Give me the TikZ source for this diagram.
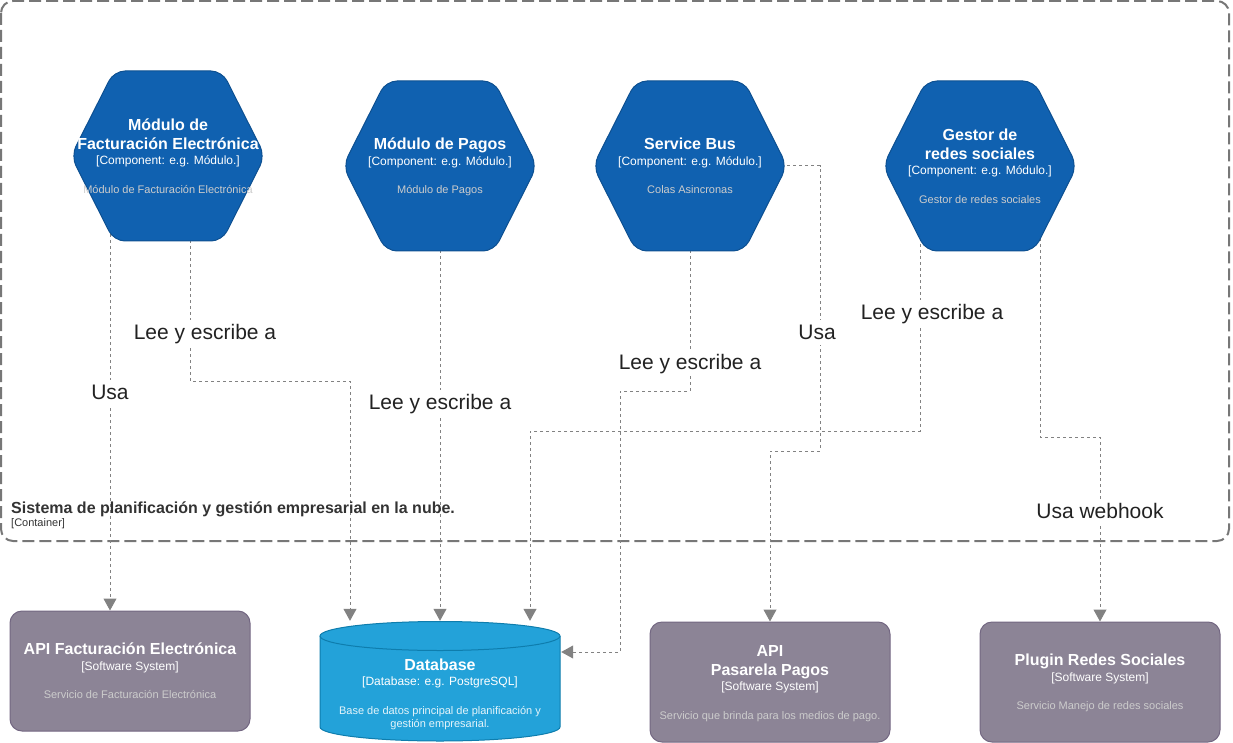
\documentclass[tikz,border=0pt]{standalone}
\usepackage{fontspec}
\setmainfont{Liberation Sans}
\usetikzlibrary{arrows.meta,calc}
\pgfdeclarelayer{bg}
\pgfsetlayers{bg,main}
\definecolor{hexfill}{HTML}{1061B0}
\definecolor{hexline}{HTML}{0D5091}
\definecolor{sysfill}{HTML}{8C8496}
\definecolor{sysline}{HTML}{736782}
\definecolor{dbfill}{HTML}{23A2D9}
\definecolor{dbline}{HTML}{0E7DAD}
\definecolor{edgec}{HTML}{828282}
\definecolor{descc}{HTML}{CCCCCC}
\definecolor{boundc}{HTML}{777777}
\definecolor{labc}{HTML}{222222}
\definecolor{bndtext}{HTML}{333333}
\newcommand\hexbody[2]{%
  \draw[hexbody] ({#1-97},{#2}) -- ({#1-54},{#2-85}) -- ({#1+54},{#2-85}) -- ({#1+97},{#2}) -- ({#1+54},{#2+85}) -- ({#1-54},{#2+85}) -- cycle;}
\tikzset{
  hexbody/.style={fill=hexfill, draw=hexline, line width=1pt, rounded corners=11pt},
  hexanchor/.style={rectangle, draw=none, fill=none, inner sep=0pt, minimum width=194pt, minimum height=170pt},
  sysbox/.style={rectangle, rounded corners=12pt, fill=sysfill, draw=sysline, line width=1pt, minimum width=240pt, minimum height=120pt, inner sep=0pt},
  dbanchor/.style={rectangle, draw=none, fill=none, inner sep=0pt, minimum width=240pt, minimum height=120pt},
  dbbody/.style={fill=dbfill, draw=dbline, line width=1pt},
  ttl/.style={font=\bfseries\fontsize{16}{19}\selectfont, text=white, inner sep=0pt, text height=11.6pt, text depth=0pt},
  typ/.style={font=\fontsize{12}{14}\selectfont, text=white, inner sep=0pt, text height=8.6pt, text depth=0pt},
  dsc/.style={font=\fontsize{11}{13}\selectfont, text=descc, inner sep=0pt, text height=7.9pt, text depth=0pt},
  lab/.style={font=\fontsize{21}{25}\selectfont, text=labc, fill=white, inner xsep=1pt, inner ysep=5pt, text height=15pt, text depth=0pt},
  edge/.style={draw=edgec, line width=1pt, dash pattern=on 3pt off 3pt, -{Triangle[length=12pt,width=13pt,fill=edgec]}},
  bound/.style={draw=boundc, line width=2pt, dash pattern=on 12pt off 5pt, rounded corners=12pt},
  bndttl/.style={font=\bfseries\fontsize{16}{19}\selectfont, text=bndtext, inner sep=0pt, anchor=west, text height=11.6pt, text depth=0pt},
  bndtyp/.style={font=\fontsize{11}{13}\selectfont, text=bndtext, inner sep=0pt, anchor=west, text height=7.9pt, text depth=0pt},
}
\begin{document}
\begin{tikzpicture}[x=1pt,y=-1pt]
\path[use as bounding box] (0,0) rectangle (1233,743);

% ---------- hexagon components ----------
\hexbody{168}{156}
\node[hexanchor] (h1) at (168,156) {};
\node[ttl] (h1a) at (168,125) {Módulo de};
\node[ttl] (h1b) at (168,144) {Facturación Electrónica};
\node[typ] (h1c) at (168,160) {[Component: e.g. Módulo.]};
\node[dsc] (h1d) at (168,190) {Módulo de Facturación Electrónica};

\hexbody{440}{166}
\node[hexanchor] (h2) at (440,166) {};
\node[ttl] (h2a) at (440,144) {Módulo de Pagos};
\node[typ] (h2c) at (440,161) {[Component: e.g. Módulo.]};
\node[dsc] (h2d) at (440,190) {Módulo de Pagos};

\hexbody{690}{166}
\node[hexanchor] (h3) at (690,166) {};
\node[ttl] (h3a) at (690,144) {Service Bus};
\node[typ] (h3c) at (690,161) {[Component: e.g. Módulo.]};
\node[dsc] (h3d) at (690,190) {Colas Asincronas};

\hexbody{980}{166}
\node[hexanchor] (h4) at (980,166) {};
\node[ttl] (h4a) at (980,135) {Gestor de};
\node[ttl] (h4b) at (980,154) {redes sociales};
\node[typ] (h4c) at (980,170) {[Component: e.g. Módulo.]};
\node[dsc] (h4d) at (980,200) {Gestor de redes sociales};

% ---------- container label ----------
\node[bndttl] (bt) at (11,508) {Sistema de planificación y gestión empresarial en la nube.};
\node[bndtyp] (bty) at (11,523) {[Container]};

% ---------- external systems ----------
\node[sysbox] (api1) at (130,671) {};
\node[ttl] (api1a) at (130,649) {API Facturación Electrónica};
\node[typ] (api1c) at (130,666) {[Software System]};
\node[dsc] (api1d) at (130,695) {Servicio de Facturación Electrónica};

\node[sysbox] (api2) at (770,682) {};
\node[ttl] (api2a) at (770,651) {API};
\node[ttl] (api2b) at (770,670) {Pasarela Pagos};
\node[typ] (api2c) at (770,686) {[Software System]};
\node[dsc] (api2d) at (770,716) {Servicio que brinda para los medios de pago.};

\node[sysbox] (plg) at (1100,682) {};
\node[ttl] (plga) at (1100,660) {Plugin Redes Sociales};
\node[typ] (plgc) at (1100,677) {[Software System]};
\node[dsc] (plgd) at (1100,706) {Servicio Manejo de redes sociales};

% ---------- database ----------
\draw[dbbody] (320,636) -- (320,727) .. controls (320,734.7) and (373.7,741) .. (440,741) .. controls (506.3,741) and (560,734.7) .. (560,727) -- (560,636);
\draw[dbbody] (440,636) ellipse [x radius=120pt, y radius=14.5pt];
\node[dbanchor] (db) at (440,681) {};
\node[ttl] (dba) at (440,665) {Database};
\node[typ] (dbc) at (440,681) {[Database: e.g. PostgreSQL]};
\node[dsc, text=white!88!dbfill] (dbd) at (440,711) {Base de datos principal de planificación y};
\node[dsc, text=white!88!dbfill] (dbe) at (440,724) {gestión empresarial.};

% ---------- connectors ----------
\coordinate (e1s) at ($(h1.center)+(-58,0)$);
\coordinate (e2s) at ($(h1.center)+(22,0)$);
\coordinate (e6s) at ($(h4.center)+(-60,0)$);
\coordinate (e7s) at ($(h4.center)+(60,0)$);
\begin{pgfonlayer}{bg}
\draw[bound] (1,1) rectangle (1229,541);
\draw[edge] (e1s) -- (e1s |- api1.north);
\draw[edge] (e2s) |- (350,381) -- ($(db.north)+(-90,0)$);
\draw[edge] (h2.center) -- (db.north);
\draw[edge] (h3.center) |- (620,391) |- ($(db.east)+(1,-29)$);
\draw[edge] (h3.east) -| (820,451) -| (api2.north);
\draw[edge] (e6s) |- (530,431) -- ($(db.north)+(90,0)$);
\draw[edge] (e7s) |- (1100,437) -- (plg.north);
\node[lab] (l1) at (110,392) {Usa};
\node[lab] (l2) at (205,332) {Lee y escribe a};
\node[lab] (l3) at (440,402) {Lee y escribe a};
\node[lab] (l4) at (690,362) {Lee y escribe a};
\node[lab] (l5) at (817,332) {Usa};
\node[lab] (l6) at (932,312) {Lee y escribe a};
\node[lab] (l7) at (1100,511) {Usa webhook};
\end{pgfonlayer}
\end{tikzpicture}
\end{document}
